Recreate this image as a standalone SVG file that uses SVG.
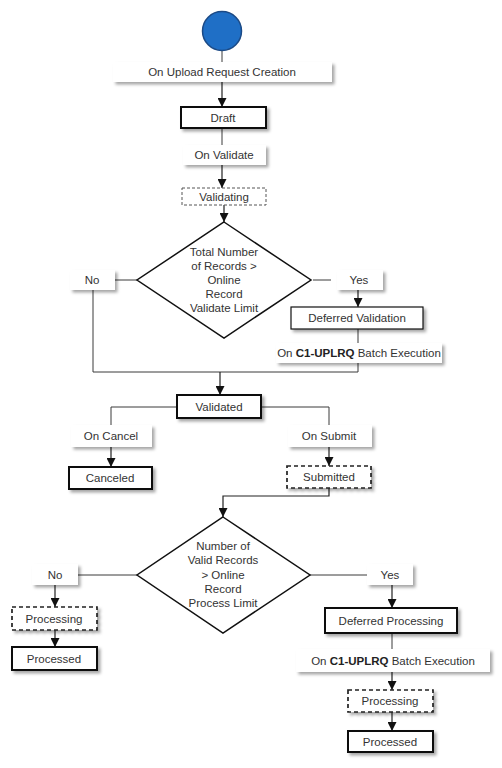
<svg xmlns="http://www.w3.org/2000/svg" width="502" height="768" viewBox="0 0 502 768">
<style>
text{font-family:"Liberation Sans",Arial,sans-serif;font-size:11.5px;fill:#333;text-anchor:middle}
.lbl{fill:#fff;stroke:none;filter:url(#sh)}
.st{fill:#fff;stroke:#111;stroke-width:2;filter:url(#sh)}
.thin{fill:#fff;stroke:#111;stroke-width:1.2;filter:url(#sh)}
.dash{fill:#fff;stroke:#222;stroke-width:1.7;stroke-dasharray:4 3;filter:url(#sh)}
.dash1{fill:#fff;stroke:#555;stroke-width:1;stroke-dasharray:3 2}
.dia{fill:#fff;stroke:#111;stroke-width:1.5}
.c{fill:none;stroke:#3a3a3a;stroke-width:1}
.a{fill:none;stroke:#222;stroke-width:1.2;marker-end:url(#ar)}
</style>
<defs>
<filter id="sh" x="-10%" y="-20%" width="130%" height="160%">
<feDropShadow dx="2.5" dy="2.5" stdDeviation="1.5" flood-color="#000" flood-opacity="0.35"/>
</filter>
<marker id="ar" markerUnits="userSpaceOnUse" markerWidth="9" markerHeight="9" refX="9" refY="4.5" orient="auto">
<path d="M0,0 L9,4.5 L0,9 z" fill="#111"/>
</marker>
</defs>
<rect width="502" height="768" fill="#fff"/>
<g id="connectors">
<path class="c" d="M222,50 V62"/>
<path class="a" d="M222,82 V107"/>
<path class="c" d="M222,128 V145"/>
<path class="a" d="M222,165 V188"/>
<path class="a" d="M224,205 V222"/>
<path class="c" d="M137,280 H115"/>
<path class="c" d="M93,290 V372 H358 V363"/>
<path class="c" d="M313,280 H331"/>
<path class="a" d="M358,290 V307"/>
<path class="c" d="M358,329 V343"/>
<path class="a" d="M220,372 V395"/>
<path class="c" d="M177,407 H111 V425"/>
<path class="a" d="M111,447 V467"/>
<path class="c" d="M261,407 H329 V425"/>
<path class="a" d="M329,447 V466"/>
<path class="a" d="M329,488 V496 H223 V517"/>
<path class="c" d="M137,575 H78"/>
<path class="a" d="M55,585 V607"/>
<path class="a" d="M55,630 V647"/>
<path class="c" d="M310,575 H367"/>
<path class="a" d="M392,585 V608"/>
<path class="c" d="M392,633 V649"/>
<path class="a" d="M392,672 V690"/>
<path class="a" d="M392,712 V731"/>
</g>
<g id="start"><circle cx="222" cy="31" r="19.5" fill="#1f6fc6" stroke="#1b4a86" stroke-width="1.5"/></g>
<g id="lbl-upload"><rect class="lbl" x="113" y="62" width="219" height="20"/><text x="222" y="76">On Upload Request Creation</text></g>
<g id="draft"><rect class="st" x="181" y="107" width="85" height="21"/><text x="223" y="122">Draft</text></g>
<g id="lbl-validate"><rect class="lbl" x="183" y="145" width="83" height="20"/><text x="224" y="159">On Validate</text></g>
<g id="validating"><rect class="dash1" x="182" y="188" width="84" height="17"/><text x="224" y="201">Validating</text></g>
<g id="decision1"><polygon class="dia" points="224,222 311,280 224,338 137,280"/>
<text x="224" y="256">Total Number</text><text x="224" y="270">of Records &gt;</text><text x="224" y="284">Online</text><text x="224" y="298">Record</text><text x="224" y="312">Validate Limit</text></g>
<g id="lbl-no1"><rect class="lbl" x="70" y="270" width="45" height="20"/><text x="92" y="284">No</text></g>
<g id="lbl-yes1"><rect class="lbl" x="337" y="270" width="46" height="20"/><text x="359" y="284">Yes</text></g>
<g id="deferred-validation"><rect class="thin" x="291" y="307" width="132" height="22"/><text x="357" y="322">Deferred Validation</text></g>
<g id="lbl-batch1"><rect class="lbl" x="276" y="343" width="166" height="20"/><text x="359" y="357">On <tspan font-weight="bold" fill="#222">C1-UPLRQ</tspan> Batch Execution</text></g>
<g id="validated"><rect class="st" x="177" y="395" width="84" height="23"/><text x="219" y="411">Validated</text></g>
<g id="lbl-cancel"><rect class="lbl" x="71" y="425" width="81" height="22"/><text x="111" y="440">On Cancel</text></g>
<g id="canceled"><rect class="st" x="69" y="467" width="83" height="22"/><text x="110" y="482">Canceled</text></g>
<g id="lbl-submit"><rect class="lbl" x="288" y="425" width="84" height="22"/><text x="329" y="440">On Submit</text></g>
<g id="submitted"><rect class="dash" x="287" y="466" width="84" height="22"/><text x="329" y="481">Submitted</text></g>
<g id="decision2"><polygon class="dia" points="223,517 310,575 223,633 137,575"/>
<text x="223" y="550">Number of</text><text x="223" y="564">Valid Records</text><text x="223" y="579">&gt; Online</text><text x="223" y="593">Record</text><text x="223" y="607">Process Limit</text></g>
<g id="lbl-no2"><rect class="lbl" x="32" y="564" width="46" height="21"/><text x="55" y="579">No</text></g>
<g id="lbl-yes2"><rect class="lbl" x="367" y="564" width="46" height="21"/><text x="390" y="579">Yes</text></g>
<g id="processing1"><rect class="dash" x="12" y="607" width="85" height="23"/><text x="54" y="623">Processing</text></g>
<g id="processed1"><rect class="st" x="12" y="647" width="85" height="23"/><text x="54" y="663">Processed</text></g>
<g id="deferred-processing"><rect class="st" x="325" y="608" width="132" height="25"/><text x="391" y="625">Deferred Processing</text></g>
<g id="lbl-batch2"><rect class="lbl" x="296" y="649" width="194" height="23"/><text x="393" y="665">On <tspan font-weight="bold" fill="#222">C1-UPLRQ</tspan> Batch Execution</text></g>
<g id="processing2"><rect class="dash" x="348" y="690" width="85" height="22"/><text x="390" y="705">Processing</text></g>
<g id="processed2"><rect class="st" x="348" y="731" width="85" height="21"/><text x="390" y="746">Processed</text></g>
</svg>
